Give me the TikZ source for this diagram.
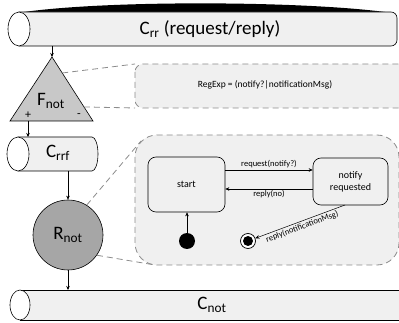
\documentclass[tikz,border=0pt]{standalone}
\usepackage{fontspec}
\setmainfont{Carlito}
\usetikzlibrary{arrows.meta,calc}
\definecolor{lightfill}{HTML}{F0F0F0}
\definecolor{trifill}{HTML}{C8C8C8}
\definecolor{circfill}{HTML}{A6A6A6}
\definecolor{dashgray}{HTML}{8C8C8C}
\tikzset{
 outline/.style={draw=black, line width=0.6pt},
 dashbox/.style={draw=dashgray, dash pattern=on 6pt off 4pt, line width=0.8pt, fill=lightfill},
 dashlink/.style={draw=dashgray, dash pattern=on 6pt off 4pt, line width=0.8pt},
 flow/.style={-{Stealth[length=4pt,width=3.5pt]}, line width=0.5pt},
 flowback/.style={{Stealth[length=4pt,width=3.5pt]}-, line width=0.5pt},
 bigtxt/.style={font=\fontsize{19}{21}\selectfont, inner sep=0pt},
 statebox/.style={draw, line width=0.6pt, fill=lightfill, rounded corners=8pt, align=center, font=\fontsize{10}{12}\selectfont, inner sep=0pt},
 lbl/.style={font=\fontsize{8.5}{10}\selectfont, inner sep=1.5pt},
 sign/.style={font=\fontsize{12}{12}\selectfont, inner sep=0pt},
}
\begin{document}
\begin{tikzpicture}[x=1pt,y=-1pt]
\useasboundingbox (0,0) rectangle (399,323);
% ---------- top cylinder C_rr
\fill (24,12) .. controls (110,0) and (300,1) .. (385,12) -- cycle;
\path[outline, fill=lightfill] (19,12) -- (391,12) arc[start angle=90,end angle=0,radius=6pt] -- (397,40) arc[start angle=0,end angle=-90,radius=6pt] -- (19,46) -- cycle;
\path[outline, fill=white] (19,29) ellipse[x radius=11pt, y radius=17pt];
\node[bigtxt] (crr) at (210,29) {C\textsubscript{rr} (request/reply)};
\coordinate (crrout) at (52,46);
% ---------- filter triangle
\coordinate (triA) at (52,57);
\coordinate (triL) at (10,121);
\coordinate (triR) at (93,121);
\path[outline, fill=trifill] (triA) -- (triR) -- (triL) -- cycle;
\node[bigtxt] (fnot) at (51,101) {F\textsubscript{not}};
\node[sign] (plus) at (28,115) {+};
\node[sign] (minus) at (79,116) {-};
\draw[flow] (crrout) -- (triA);
% ---------- regexp box
\path[dashbox, rounded corners=8pt] (135,64) rectangle (412,108);
\coordinate (rbTL) at (135,64);
\coordinate (rbBL) at (135,108);
\node[font=\fontsize{9.5}{11}\selectfont, inner sep=0pt] (regexp) at (265,85) {RegExp = (notify?|notificationMsg)};
\draw[dashlink] ($(triA)!0.25!(triR)$) -- (rbTL);
\draw[dashlink] ($(triA)!0.78!(triR)$) -- (rbBL);
% ---------- C_rrf cylinder
\path[outline, fill=lightfill] (18,137) -- (92,137) arc[start angle=90,end angle=-90,x radius=6pt,y radius=17pt] -- (18,171) -- cycle;
\path[outline, fill=white] (18,154) ellipse[x radius=11pt, y radius=17pt];
\node[bigtxt] (crrf) at (58,153) {C\textsubscript{rrf}};
\coordinate (crrfin) at (28,137);
\coordinate (crrfout) at (68,171);
\draw[flow] (28,121) -- (crrfin);
% ---------- R_not circle
\node[circle, outline, fill=circfill, minimum size=70pt, inner sep=0pt, font=\fontsize{19}{21}\selectfont] (rnot) at (68,235) {R\textsubscript{not}};
\draw[flow] (crrfout) -- (rnot.north);
% ---------- big automaton box
\path[dashbox, rounded corners=22pt] (135,135) rectangle (399,265);
\coordinate (bbTL) at (141,141);
\coordinate (bbBL) at (155,265);
\draw[dashlink] (rnot.58) -- (bbTL);
\draw[dashlink] (rnot.-35) -- (bbBL);
% states
\node[statebox, minimum width=77pt, minimum height=55pt] (start) at (186.5,184.5) {start};
\node[statebox, minimum width=75pt, minimum height=47pt] (notif) at (350.5,181.5) {notify\\requested};
\draw[flow] (start.east |- 0,170) -- node[lbl, above] {request(notify?)} (notif.west |- 0,170);
\draw[flow] (notif.west |- 0,189) -- node[lbl, below] {reply(no)} (start.east |- 0,189);
\node[circle, fill=black, minimum size=16pt, inner sep=0pt] (init) at (187,241) {};
\draw[flow] (init) -- (init |- start.south);
\node[circle, draw, line width=0.7pt, fill=white, minimum size=15pt, inner sep=0pt] (final) at (248,241) {};
\node[circle, fill=black, minimum size=10pt, inner sep=0pt] (finalin) at (final) {};
\coordinate (notifout) at (345,205);
\draw[flowback] (final) -- node[lbl, below, sloped, pos=0.5] {reply(notificationMsg)} (notifout);
% ---------- C_not cylinder
\coordinate (cnotin) at (68,290);
\draw[flow] (rnot.south) -- (cnotin);
\path[outline, fill=lightfill] (20,290) -- (412,290) -- (412,320) -- (20,320) -- cycle;
\path[outline, fill=white] (20,305) ellipse[x radius=10pt, y radius=15pt];
\node[bigtxt] (cnot) at (212,305) {C\textsubscript{not}};
\end{tikzpicture}
\end{document}
